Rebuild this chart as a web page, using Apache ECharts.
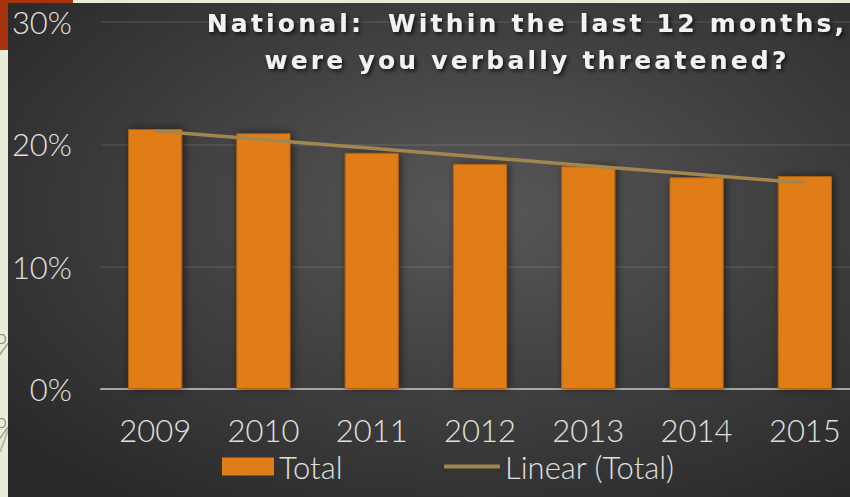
<!DOCTYPE html>
<html>
<head>
<meta charset="utf-8">
<script src="https://cdn.jsdelivr.net/npm/echarts@6/dist/echarts.min.js"></script>
<style>
  html, body { margin: 0; padding: 0; background: #e9edd5; }
  #chart { width: 850px; height: 497px; }
  /* widen the tracking of the heading lines */
  #chart text[style*="DejaVu"], #chart text[font-family*="DejaVu"] { letter-spacing: 3.2px; }
</style>
</head>
<body>
<div id="chart"></div>
<script>
// Survey years and share answering "yes" (percent)
const years = ['2009', '2010', '2011', '2012', '2013', '2014', '2015'];
const totals = [21.25, 20.9, 19.3, 18.4, 18.2, 17.3, 17.4];
const yTicks = { min: 0, max: 30, interval: 10 };
const titleLines = ['National:  Within the last 12 months,', 'were you verbally threatened?'];

// Least-squares trend through the yearly totals
function linearTrend(vals) {
  const n = vals.length;
  let sx = 0, sy = 0, sxy = 0, sxx = 0;
  vals.forEach((v, i) => { sx += i; sy += v; sxy += i * v; sxx += i * i; });
  const slope = (n * sxy - sx * sy) / (n * sxx - sx * sx);
  const icpt = (sy - slope * sx) / n;
  return vals.map((_, i) => +(icpt + slope * i).toFixed(3));
}
const trend = linearTrend(totals);

const chart = echarts.init(document.getElementById('chart'), null, { renderer: 'svg' });
const labelFont = 'Lato';
const labelStyle = { color: '#e0e0e0', fontFamily: labelFont, fontWeight: 300, fontSize: 31 };

chart.setOption({
  backgroundColor: 'transparent',
  animation: false,
  graphic: [
    // slide content peeking out behind the chart panel
    { type: 'text', z: -20, x: -22, y: 328,
      style: { text: '5%', fill: '#8a8a80', font: '300 30px Lato' } },
    { type: 'text', z: -20, x: -22, y: 412,
      style: { text: '9%', fill: '#8a8a80', font: '300 30px Lato' } },
    { type: 'line', z: -20,
      shape: { x1: 0, y1: 452, x2: 9, y2: 428 },
      style: { stroke: '#b8b8a8', lineWidth: 2 } },
    { type: 'rect', z: -19,
      shape: { x: 0, y: 0, width: 73, height: 50 },
      style: { fill: '#a8330f' } },
    { type: 'rect', z: -18,
      shape: { x: 8, y: 3, width: 842, height: 494 },
      style: {
        fill: {
          type: 'radial', x: 0.56, y: 0.42, r: 0.72,
          colorStops: [
            { offset: 0, color: '#585858' },
            { offset: 1, color: '#292929' }
          ]
        }
      } },
    { type: 'text', z: 10, x: 527, y: 5,
      style: {
        text: titleLines.join('\n'), align: 'center', verticalAlign: 'top',
        fill: '#f2f2f2',
        font: 'bold 25px "DejaVu Sans"', lineHeight: 37,
        textShadowColor: 'rgba(0,0,0,0.75)', textShadowBlur: 4,
        textShadowOffsetX: 2, textShadowOffsetY: 2
      } }
  ],
  grid: { left: 101, top: 22, width: 758, height: 367, outerBoundsMode: 'none', containLabel: false },
  legend: [
    {
      data: ['Total'], left: 217, top: 446, icon: 'rect',
      itemWidth: 52, itemHeight: 18, itemGap: 10,
      itemStyle: { borderWidth: 0, shadowBlur: 0 },
      textStyle: labelStyle
    },
    {
      data: ['Linear (Total)'], left: 439, top: 446, icon: 'roundRect',
      itemWidth: 56, itemHeight: 4, itemGap: 10,
      textStyle: labelStyle
    }
  ],
  xAxis: {
    type: 'category', data: years,
    axisLine: { lineStyle: { color: '#a6a6a6', width: 2 } },
    axisTick: { show: false },
    axisLabel: Object.assign({ margin: 25 }, labelStyle)
  },
  yAxis: {
    type: 'value', min: yTicks.min, max: yTicks.max, interval: yTicks.interval,
    axisLine: { show: false }, axisTick: { show: false },
    axisLabel: Object.assign({ margin: 29, formatter: '{value}%' }, labelStyle),
    splitLine: { lineStyle: { color: 'rgba(255,255,255,0.08)', width: 2 } }
  },
  series: [
    {
      name: 'Total', type: 'bar', data: totals, barWidth: '50%',
      itemStyle: {
        color: '#e07d18', borderColor: '#b5620f', borderWidth: 1,
        shadowColor: 'rgba(0,0,0,0.55)', shadowBlur: 8, shadowOffsetX: 2, shadowOffsetY: 0
      }
    },
    {
      name: 'Linear (Total)', type: 'line', data: trend, symbol: 'none', z: 5,
      color: '#a1864f',
      lineStyle: { color: '#a1864f', width: 3.5 }
    }
  ]
});
</script>
</body>
</html>
